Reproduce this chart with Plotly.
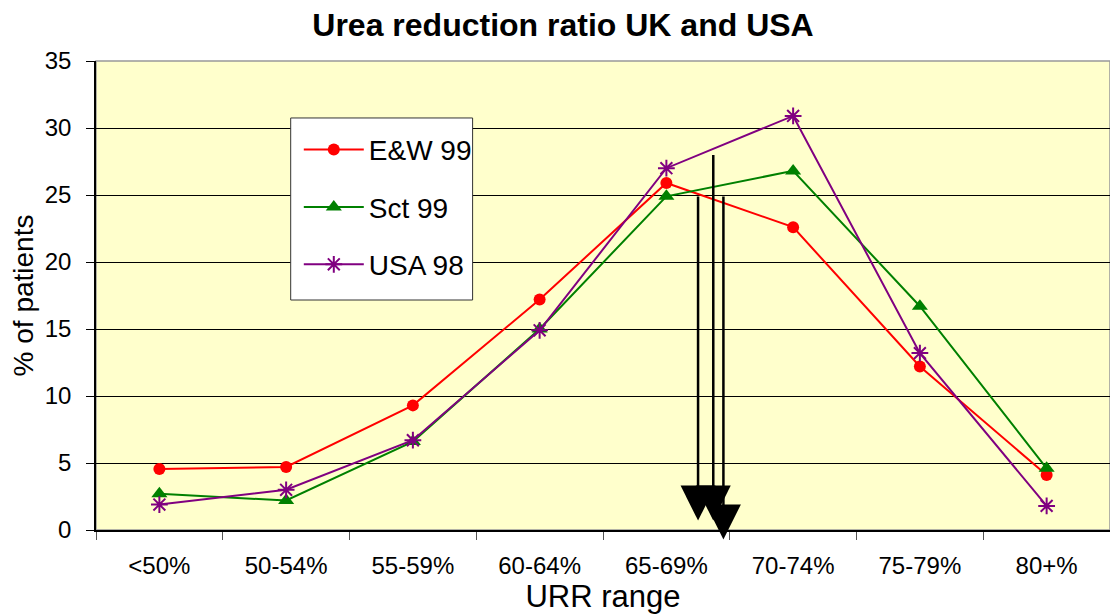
import plotly.graph_objects as go

categories = ["<50%", "50-54%", "55-59%", "60-64%", "65-69%", "70-74%", "75-79%", "80+%"]
ew99 = [4.55, 4.7, 9.3, 17.2, 25.9, 22.6, 12.2, 4.1]
sct99 = [2.7, 2.2, 6.6, 15.0, 24.9, 26.8, 16.7, 4.6]
usa98 = [1.9, 3.0, 6.7, 14.9, 27.0, 30.9, 13.2, 1.8]

# mean URR markers (arrows): x position in category index units, start and end values
arrow_x = [4.25, 4.37, 4.45]
arrow_start = [25.0, 28.1, 25.0]
arrow_end = [0.7, 0.7, -0.7]

fig = go.Figure()
fig.add_trace(go.Scatter(x=categories, y=ew99, name="E&W 99", mode="lines+markers",
                         line=dict(color="#FF0000", width=2),
                         marker=dict(symbol="circle", size=12, color="#FF0000"),
                         legendgroup="a"))
fig.add_trace(go.Scatter(x=categories, y=sct99, name="Sct 99", mode="lines+markers",
                         line=dict(color="#008000", width=2),
                         marker=dict(symbol="triangle-up", size=14, color="#008000"),
                         legendgroup="b"))
fig.add_trace(go.Scatter(x=categories, y=usa98, name="USA 98", mode="lines+markers",
                         line=dict(color="#800080", width=2),
                         marker=dict(symbol="asterisk-open", size=14, color="#800080",
                                     line=dict(color="#800080", width=2)),
                         legendgroup="c"))

for xa, ys, ye in zip(arrow_x, arrow_start, arrow_end):
    fig.add_annotation(x=xa, y=ye, ax=xa, ay=ys, xref="x", yref="y", axref="x", ayref="y",
                       showarrow=True, arrowhead=2, arrowsize=2.8, arrowwidth=2.5,
                       arrowcolor="#000000", text="")

# plot-area frame (grey) and legend frame
fig.add_shape(type="rect", xref="paper", yref="paper", x0=0, x1=1, y0=0, y1=1,
              line=dict(color="#999999", width=1.5), layer="below")
fig.add_shape(type="rect", xref="paper", yref="paper", x0=0.192, x1=0.3714, y0=0.4904, y1=0.8785,
              fillcolor="white", line=dict(color="#333333", width=1), layer="above")

fig.update_layout(
    width=1110, height=608,
    margin=dict(l=88, r=8, t=53, b=86),
    paper_bgcolor="white",
    plot_bgcolor="#FFFFCC",
    font=dict(family="Arial, Liberation Sans, sans-serif", color="black"),
    title=dict(text="<b>Urea reduction ratio UK and USA</b>", x=0.5, xanchor="center",
               y=0.972, yanchor="middle", font=dict(size=32), automargin=False),
    legend=dict(x=0.2, y=0.864, xanchor="left", yanchor="top",
                bgcolor="rgba(0,0,0,0)", borderwidth=0,
                font=dict(size=28), tracegroupgap=18, itemwidth=60),
    showlegend=True,
)
fig.update_xaxes(type="category", tickson="boundaries", ticks="outside", ticklen=8,
                 tickcolor="#555555", showgrid=False, showline=True, linecolor="#000000",
                 linewidth=1.5, tickfont=dict(size=24), automargin=False,
                 ticklabelstandoff=13,
                 title=dict(text="URR range", font=dict(size=31), standoff=3),
                 range=[-0.5, 7.5])
fig.update_yaxes(range=[0, 35], dtick=5, showgrid=True, gridcolor="#000000", gridwidth=1,
                 ticks="outside", ticklen=8, tickcolor="#000000", showline=True,
                 linecolor="#000000", linewidth=1.5, tickfont=dict(size=24),
                 automargin=False, ticklabelstandoff=10,
                 title=dict(text="% of patients", font=dict(size=28), standoff=8),
                 zeroline=False)

fig.write_html("out.html")
